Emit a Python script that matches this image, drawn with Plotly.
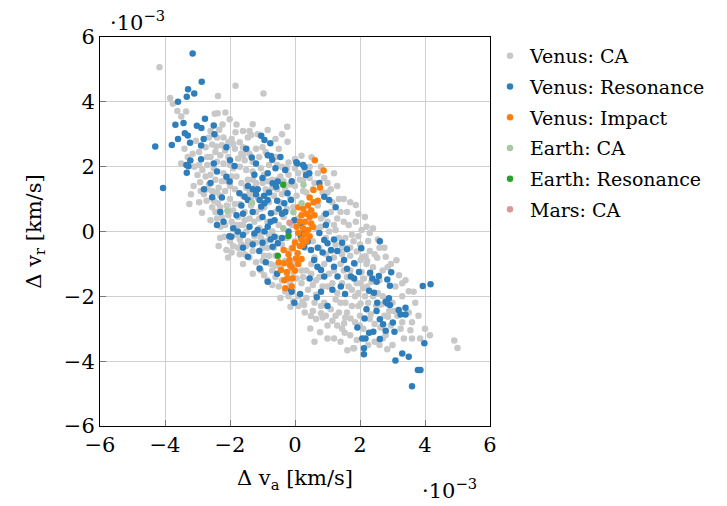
import plotly.graph_objects as go

# Data in units of 1e-3 km/s: (delta v_a, delta v_r)
venus_ca = [
(-4.17,5.07),(-3.84,4.12),(-3.76,3.94),(-3.62,3.72),(-3.5,3.55),(-3.35,3.7),(-2.37,4.18),(-2.38,3.65),(-2.47,3.63),(-2.14,3.67),
(-2.23,3.3),(-2.33,3.14),(-1.83,4.5),(-0.97,4.26),(-2.01,3.46),(-1.3,3.31),(-1.83,3.06),(-1.4,3.1),(-1.35,2.98),(-1.45,2.9),
(-0.84,3.13),(-0.24,3.23),(-0.23,2.77),(-2.55,2.68),(-2.42,2.62),(-2.25,2.66),(-2.45,2.45),(-2.3,2.35),(-2.15,2.5),(-2.05,2.3),
(-2.4,2.15),(-2.2,2.1),(-2.0,2.05),(-1.9,2.7),(-1.95,2.85),(-1.85,2.55),(-1.7,2.75),(-1.6,2.6),(-1.5,2.5),(-1.65,2.41),
(-1.75,2.25),(-1.55,2.2),(-1.4,2.4),(-1.2,2.55),(-1.0,2.6),(-0.9,2.45),(-1.1,2.3),(-0.5,2.55),(-0.6,2.3),(-0.2,2.13),
(0.0,2.24),(0.2,2.34),(0.51,2.29),(-0.4,2.0),(-3.0,1.74),(-3.12,1.4),(-2.92,1.52),(-3.25,0.85),(-2.86,0.58),(-2.72,0.95),
(-2.37,0.87),(-2.8,1.15),(-2.65,1.45),(-2.6,1.75),(-2.5,1.95),(-2.45,1.6),(-2.35,1.35),(-2.3,1.1),(-2.2,1.8),(-2.1,1.55),
(-2.15,1.25),(-2.0,1.0),(-2.25,0.45),(-2.29,0.15),(-2.17,-0.16),(-2.11,-0.57),(-2.06,-0.8),(-1.95,0.3),(-1.9,0.65),(-1.85,1.3),
(-1.8,1.7),(-1.9,1.95),(-1.7,2.0),(-1.65,1.5),(-1.6,1.1),(-1.7,0.85),(-1.75,0.45),(-1.6,0.2),(-1.8,-0.1),(-1.65,-0.4),
(-1.55,-0.7),(-1.45,-0.3),(-1.4,0.4),(-1.35,0.8),(-1.4,1.2),(-1.45,1.6),(-1.3,1.85),(-1.2,1.5),(-1.15,1.05),(-1.2,0.6),
(-1.1,0.1),(-1.25,-0.15),(-1.3,-0.6),(-1.2,-0.95),(-1.05,-1.2),(-0.95,-0.75),(-0.9,-0.3),(-0.85,0.3),(-0.95,0.75),(-0.9,1.3),
(-0.95,1.75),(-0.8,2.05),(-0.7,1.6),(-0.65,1.1),(-0.6,0.6),(-0.7,0.0),(-0.65,-0.5),(-0.75,-1.0),(-0.6,-1.4),(-0.5,-1.7),
(-0.45,-1.1),(-0.4,-0.4),(-0.35,0.45),(-0.45,0.9),(-0.3,1.3),(-0.45,1.7),(-0.2,1.75),(-0.15,1.0),(-0.1,0.2),(-0.2,-0.6),
(-0.25,-1.3),(-0.15,-1.6),(-0.14,-2.32),(0.23,-2.17),(0.28,-2.27),(0.05,-1.45),(0.1,-0.9),(0.0,-0.3),(0.1,0.4),(0.05,1.1),
(0.15,1.6),(0.3,1.9),(0.35,1.2),(0.4,0.3),(0.3,-0.5),(0.35,-1.2),(0.4,-1.8),(0.49,-2.61),(0.8,-2.52),(0.85,-2.65),
(0.47,-2.99),(0.77,-3.11),(0.6,-2.2),(0.65,-1.5),(0.6,-0.8),(0.65,0.1),(0.7,0.8),(0.6,1.5),(0.9,1.65),(1.0,1.2),
(0.9,0.5),(0.95,-0.2),(0.9,-1.0),(0.85,-1.7),(0.9,-2.2),(1.1,-2.4),(1.15,-1.6),(1.1,-0.6),(1.2,0.2),(1.15,0.9),
(1.3,1.4),(1.4,0.6),(1.35,-0.2),(1.4,-1.0),(1.3,-1.9),(1.35,-2.5),(1.51,-2.83),(1.53,-3.12),(1.61,-3.66),(1.79,-3.6),
(1.55,-2.2),(1.6,-1.4),(1.6,-0.5),(1.65,0.2),(1.7,0.9),(1.87,0.82),(1.87,0.3),(2.15,0.45),(1.8,-0.3),(1.85,-1.0),
(1.75,-1.8),(1.71,-2.68),(1.82,-3.6),(2.0,-2.9),(1.95,-2.3),(2.02,-2.22),(2.25,-0.29),(1.9,-0.62),(2.07,-0.78),(2.17,-0.76),
(2.22,-0.91),(2.02,-0.88),(2.53,-0.81),(2.79,-0.78),(3.12,-0.89),(2.12,-1.45),(2.02,-1.6),(2.1,-1.75),(2.22,-1.7),(3.09,-1.7),
(3.5,-1.84),(3.65,-1.86),(2.33,-2.55),(2.86,-2.63),(2.63,-2.96),(2.79,-3.19),(2.84,-3.63),(4.9,-3.36),(5.0,-3.59),(2.4,-1.1),
(2.6,-1.5),(2.7,-2.0),(2.5,-2.3),(2.4,-2.0),(2.3,-1.3),(3.0,-2.2),(3.3,-2.0),(2.05,-1.25),(1.95,-1.9),
(-2.6,2.3),(-2.7,2.05),(-2.55,1.25),(-2.0,1.4),(-1.95,1.7),(-1.5,1.9),(-1.3,1.6),(-1.05,1.95),(-1.1,0.4),(-1.5,0.0),
(-1.35,-0.35),(-1.0,-0.5),(-0.8,-0.75),(-0.55,-0.2),(-0.3,-0.9),(-0.05,-1.0),(0.2,-1.6),(0.5,-1.3),(0.75,-0.5),(1.0,0.3),
(1.25,-0.4),(1.05,-1.3),(1.25,-2.1),(1.45,-1.6),(1.7,-1.2),(1.45,-0.7),(0.8,0.15),(0.55,-0.3),(-0.25,0.7),(-0.55,1.3),
(-0.8,0.9),(-1.0,1.5),(-0.35,1.55),(0.0,1.4),(-2.45,0.6),(-2.3,0.75),(-2.6,0.35),(-1.9,-0.45),(-1.6,-1.0),(-1.3,-1.3),
(-0.85,-1.5),(-0.3,-1.85),(0.1,-2.0),(0.65,-2.7),(1.0,-2.9),(1.2,-3.3),(1.4,-3.4),(1.15,-2.75),(1.75,-2.3),(2.3,-2.7),
(2.6,-3.5),(3.25,-3.0),(3.0,-3.5),(3.6,-2.8),(3.3,-1.6),(2.85,-1.1),(2.6,-0.5),(2.4,0.1),(2.05,0.05),(2.3,-0.6),
(1.95,0.55),(1.5,1.0),(1.2,1.8),(0.8,2.0),(0.45,1.65),(0.25,1.25),(-0.05,0.75),(-0.6,-1.05),(-1.7,-0.7),(-2.35,-0.45),
(-3.3,2.3),(-3.1,2.0),(-2.95,2.45),(-2.75,2.6),(-2.65,2.9),(-2.4,2.9),(-2.2,2.9),(-2.05,2.75),(-1.8,3.3),(-1.6,3.1),
(-1.15,3.0),(-0.6,2.85),(-0.4,3.0),(-3.5,2.1),(-3.2,1.15),(-2.95,0.9),(-2.85,1.9),(-2.7,1.3),(-2.5,0.95),(-2.4,1.2),
(-2.25,1.55),(-2.1,0.8),(-2.05,0.5),(-2.15,0.2),(-2.0,-0.3),(-1.85,0.85),(-1.7,0.2),(-1.55,0.6),(-1.5,1.35),(-1.35,1.05),
(-1.25,0.3),(-1.05,-0.2),(-0.8,-0.1),(-0.5,0.2),(-0.25,-0.2),(-0.1,-0.5),(0.2,-1.2),(0.5,-1.0),(0.7,-1.1),(0.95,-0.7),
(1.05,0.0),(1.3,0.4),(1.5,0.3),(1.55,-0.2),(1.7,-0.75),(2.0,-0.4),(2.2,-1.0),(2.45,-0.7),(2.7,-1.2),(2.55,-1.9),
(2.25,-2.2),(2.0,-2.6),(1.6,-2.5),(1.4,-2.2),(1.2,-1.2),(1.0,-1.7),(0.8,-2.3),(0.55,-2.45),(0.3,-2.5),(0.1,-2.3),
(-0.2,-2.0),(-0.4,-1.5),(-0.7,-1.2),(-1.0,-0.9),(-1.4,-0.8),(-1.7,-0.25),(-1.05,0.7),(-0.7,1.35),(-0.4,1.15),(-0.15,1.45),
(0.1,1.8),(0.45,2.0),(0.7,1.8),(1.0,1.5),(1.1,0.6),(0.8,0.4),(0.55,1.3),(1.3,-2.9),(1.45,-3.0),(1.7,-3.2),
(1.9,-3.35),(2.25,-3.5),(2.45,-3.4),(2.7,-3.3),(2.95,-2.9),(3.15,-2.6),(2.9,-2.45),(2.65,-2.25),(2.35,-1.55),(2.15,-2.0),
(1.85,-2.0),(1.65,-1.7),(1.5,-1.2),(1.35,-0.6),(1.75,-0.1),(2.3,-0.05),(2.55,-0.25),(2.75,-0.5),(2.95,-1.0),(3.2,-1.35),
(3.4,-1.5),(3.7,-2.2),(3.5,-2.5),(3.8,-2.6),(4.0,-3.0),(3.6,-3.3),(3.35,-3.3),(1.0,-3.3),(0.6,-3.4),
(-3.4,2.55),(-3.15,2.4),(-2.95,2.05),(-2.75,1.7),(-2.9,1.25),(-2.55,0.75),(-2.4,0.4),(-2.3,-0.2),(-1.95,-0.65),(-1.75,-0.5),
(-1.5,-0.45),(-1.2,-0.35),(-0.95,-1.35),(-0.7,-1.65),(-0.45,-2.05),(-0.05,-2.15),(0.35,-2.05),(0.65,-1.95),(0.95,-2.6),(1.25,-2.6),
(1.55,-2.65),(1.85,-2.8),(2.1,-3.0),(2.45,-2.85),(2.75,-2.6),(3.05,-2.45),(3.3,-2.8),(3.55,-3.05),(3.85,-3.3),(4.15,-3.2),
(1.9,-1.6),(1.7,-0.5),(1.95,-0.15),(2.2,0.15),(1.6,0.6),(1.35,1.0),(1.1,1.3),(0.85,1.2),(1.25,0.05),(1.45,-0.5),
(1.2,-0.8),(0.75,-1.4),(0.55,-1.65),(0.25,-1.4),(-0.05,-1.25),(-0.6,-0.75),(-0.85,-0.5),(-1.1,-0.1),(-1.55,0.35),(-1.8,0.2),
(-1.25,1.35),(-0.85,1.55),(-0.55,1.6),(-0.25,1.95),(0.0,1.95),(0.25,1.6),(-0.55,2.05),(-1.3,2.15),(-1.6,2.35),(-2.7,2.3),
(-3.05,2.8),(-2.6,3.1),
]

venus_res = [
(-3.15,5.49),(-2.87,4.62),(-3.29,4.39),(-3.1,4.26),(-3.33,4.16),(-3.6,4.0),(-2.77,3.48),(-3.43,3.35),(-3.68,3.29),(-3.02,3.26),
(-2.88,3.19),(-2.5,3.27),(-3.39,3.03),(-3.3,2.96),(-2.48,3.0),(-3.6,2.85),(-2.81,2.85),(-3.23,2.74),(-3.79,2.67),(-2.89,2.65),
(-4.3,2.62),(-2.11,2.6),(-3.22,2.19),(-2.89,2.23),(-3.34,2.05),(-3.28,2.01),(-3.33,1.81),(-4.06,1.34),(-2.8,1.3),(-2.55,1.06),
(-2.02,-0.15),(-1.04,2.95),(-0.94,2.82),(-0.76,2.72),(-1.33,2.28),(-0.84,2.35),(-0.74,2.33),(-0.7,2.21),(0.04,2.14),(0.25,2.05),
(2.61,-0.3),(2.04,-0.52),(1.97,-1.25),(2.31,-1.27),(2.38,-1.45),(2.58,-1.37),(2.51,-1.55),(2.84,-1.48),(2.96,-1.26),(2.92,-1.67),
(1.82,-1.45),(3.93,-1.68),(4.17,-1.63),(2.28,-1.83),(2.43,-1.89),(2.89,-2.06),(2.79,-2.17),(2.92,-2.27),(2.84,-2.22),(2.53,-2.2),
(2.2,-2.4),(2.51,-2.45),(3.19,-2.42),(3.4,-2.35),(3.25,-2.56),(3.4,-2.56),(2.14,-2.68),(2.61,-2.71),(2.71,-2.86),(3.01,-2.81),
(1.92,-2.96),(2.79,-3.06),(3.06,-3.09),(2.28,-3.12),(2.41,-3.09),(2.07,-3.3),(2.17,-3.3),(2.61,-3.32),(3.98,-3.45),(2.12,-3.6),
(2.12,-3.79),(3.3,-3.76),(3.5,-3.86),(3.09,-3.98),(3.78,-4.27),(3.86,-4.27),(3.6,-4.77),(-0.1,-1.86),(0.16,-1.93),(-0.02,-2.2),
(0.8,-1.86),(0.67,-2.03),(1.54,-1.93),(-1.86,2.02),(0.07,2.1),(0.29,1.99),(0.34,1.74),(0.44,1.8),(-0.69,1.49),(-0.53,1.54),
(-0.58,1.38),(-0.84,1.8),(-1.09,0.97),(-0.94,0.87),(-1.04,0.77),(-0.84,0.97),(-1.71,1.18),(-1.55,1.07),(-1.45,0.97),(-0.74,0.56),
(-0.63,0.35),(-0.84,0.15),(-0.94,0.0),(-1.15,0.05),(-1.25,-0.06),(-1.96,-0.16),(-1.76,0.0),(-1.6,-0.11),(-1.45,-0.78),(-1.09,-1.14),
(-0.84,-1.55),(-0.12,-1.8),(0.28,-0.47),(0.39,-0.31),(0.49,-0.57),(0.59,-0.88),(0.69,-1.09),(0.9,-0.26),(1.0,-0.36),(1.11,-0.57),
(0.8,-1.19),(0.9,-1.39),(1.2,-1.09),(1.31,-1.39),(1.41,-1.7),(1.72,-1.39),(1.51,-0.88),(1.82,-0.98),(0.9,1.07),(1.05,0.97),
(0.18,-0.16),(0.28,-0.06),(-0.33,0.87),(-0.12,0.97),(-0.23,1.18),(-0.02,0.35),(0.18,0.25),(-2.11,1.69),(-2.01,1.54),(-0.63,-0.16),
(-0.53,-0.36),(-0.69,-0.47),(-1.3,1.3),(-1.2,1.15),(-0.95,1.1),(-0.5,0.7),(-0.4,0.55),(-1.0,0.45),(-0.75,0.3),(-1.4,0.15),
(-1.6,0.55),(-1.9,0.1),(-1.3,-0.4),(-1.1,-0.6),(-0.9,-0.95),(0.75,-0.05),(1.3,-0.6),(1.6,-1.15),(1.15,-1.8),(0.45,-1.45),
(-2.4,1.85),(-2.6,1.5),(-1.5,2.55),(-1.2,2.1),(-0.45,2.3),(1.0,-2.3),
(-2.3,0.6),(-2.2,0.3),(-1.8,0.5),(-1.65,0.8),(-1.45,1.4),(-1.25,1.75),(-1.0,1.65),(-0.8,1.2),(-0.55,0.95),(-0.3,0.6),
(-0.2,0.0),(-0.4,-0.2),(-0.75,-0.25),(-1.0,-0.35),(-1.6,-0.5),(-0.55,-1.3),(0.7,-0.5),(0.85,-0.65),(1.2,-0.25),(1.45,-0.35),
(1.6,-0.55),(1.05,-0.85),(0.95,0.55),(0.95,0.2),(1.25,0.75),(0.75,1.5),(-0.1,1.55),(-0.3,1.9),(-0.6,1.95),(-1.15,1.3),
(-1.3,0.6),(-2.25,1.05),(-2.4,0.2),(-2.5,2.1),(-2.0,2.2),
]

venus_impact = [
(0.61,2.2),(0.88,1.88),(0.77,1.36),(0.57,1.28),(0.57,0.9),(0.1,0.75),(0.25,0.7),(0.4,0.8),(0.5,0.65),(0.35,0.55),
(0.2,0.5),(0.45,0.45),(0.6,0.5),(0.15,0.3),(0.3,0.3),(0.5,0.25),(0.05,0.15),(0.25,0.1),(0.4,0.05),(0.55,0.15),
(0.1,-0.05),(0.3,-0.1),(0.45,-0.15),(0.2,-0.25),(0.35,-0.3),(0.0,-0.35),(0.15,-0.45),(-0.35,-0.57),(-0.07,-0.52),(0.08,-0.67),
(0.23,-0.42),(-0.17,-0.88),(0.03,-0.83),(-0.33,-0.98),(-0.43,-1.19),(-0.33,-1.5),(-0.23,-1.44),(-0.07,-1.44),(-0.2,-0.7),(0.1,-1.0),
(-0.1,-1.1),(0.2,-0.85),(-0.5,-0.95),(-0.25,-1.25),(0.0,-1.2),(-0.15,-1.05),(-0.3,-1.75),(-0.1,-1.7),(0.7,0.95),(0.45,1.05),
]

earth_ca = [(-2.08,0.64),(0.26,1.44),(-1.32,0.89),(0.2,0.87),(-0.05,0.59),(-0.36,0.1)]
earth_res = [(-0.36,1.44),(-0.2,-0.14),(-0.53,-0.75)]
mars_ca = [(-0.17,0.27)]

series = [
    ("Venus: CA", venus_ca, "#c8c8c8"),
    ("Venus: Resonance", venus_res, "#2f7ebc"),
    ("Venus: Impact", venus_impact, "#ff7f0e"),
    ("Earth: CA", earth_ca, "#a9c8a3"),
    ("Earth: Resonance", earth_res, "#2ca02c"),
    ("Mars: CA", mars_ca, "#d9999b"),
]

xticks = [-6, -4, -2, 0, 2, 4, 6]
yticks = [-6, -4, -2, 0, 2, 4, 6]

fig = go.Figure()
for name, pts, col in series:
    fig.add_trace(go.Scatter(
        x=[p[0] for p in pts], y=[p[1] for p in pts], mode="markers", name=name,
        legendgroup=name,
        marker=dict(color=col, size=6.5, line=dict(width=0)),
    ))

font = "DejaVu Serif"
fs = 21
axis_common = dict(
    range=[-6, 6], showgrid=True, gridcolor="#cfcfcf", gridwidth=1,
    showline=True, linecolor="black", linewidth=1, mirror=True,
    ticks="inside", ticklen=6, tickcolor="#777777", zeroline=False,
    tickfont=dict(family=font, size=fs, color="black"),
)
fig.update_layout(
    width=727, height=506,
    margin=dict(l=100, r=237, t=37, b=80),
    plot_bgcolor="white", paper_bgcolor="white",
    font=dict(family=font, color="black"),
    xaxis=dict(tickvals=xticks, ticktext=[("−" if v < 0 else "") + str(abs(v)) for v in xticks],
               title=dict(text="Δ v<sub>a</sub> [km/s]", font=dict(family=font, size=fs), standoff=14), **axis_common),
    yaxis=dict(tickvals=yticks, ticktext=[("−" if v < 0 else "") + str(abs(v)) for v in yticks],
               title=dict(text="Δ v<sub>r</sub> [km/s]", font=dict(family=font, size=fs), standoff=16), **axis_common),
    legend=dict(x=1.0, y=1.0, xanchor="left", yanchor="top", font=dict(family=font, size=19),
                bgcolor="rgba(0,0,0,0)", itemwidth=30, tracegroupgap=3),
    showlegend=True,
)
fig.add_annotation(text="·10<sup>−3</sup>", xref="paper", yref="paper", x=0.02, y=1.0,
                   xanchor="left", yanchor="bottom", showarrow=False, font=dict(family=font, size=fs))
fig.add_annotation(text="·10<sup>−3</sup>", xref="paper", yref="paper", x=0.82, y=-0.12,
                   xanchor="left", yanchor="top", showarrow=False, font=dict(family=font, size=fs))
fig.write_html("out.html")
